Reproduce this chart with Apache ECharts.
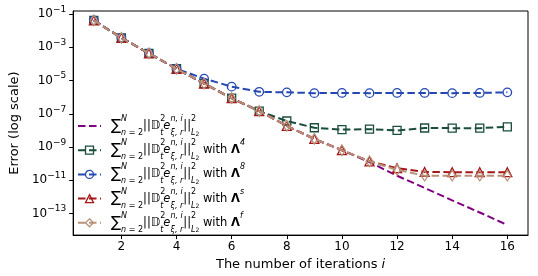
<!DOCTYPE html>
<html>
<head>
<meta charset="utf-8">
<script src="https://cdn.jsdelivr.net/npm/echarts@6/dist/echarts.min.js"></script>
<style>html,body{margin:0;padding:0;background:#fff}#c{width:538px;height:276px}</style>
</head>
<body>
<div id="c"></div>
<script>
const iterations = [1,2,3,4,5,6,7,8,9,10,11,12,13,14,15,16];
const errPlain   = [4.1e-2,3.7e-3,4.3e-4,5.1e-5,6.6e-6,8.7e-7,1.45e-7,1.9e-8,3.1e-9,6.5e-10,1.25e-10,1.9e-11,3.5e-12,6.3e-13,1.17e-13,2.1e-14];
const errLambda4 = [4.1e-2,3.7e-3,4.3e-4,5.1e-5,6.6e-6,8.7e-7,1.45e-7,3.7e-8,1.45e-8,1.12e-8,1.2e-8,1.0e-8,1.4e-8,1.38e-8,1.38e-8,1.65e-8];
const errLambda8 = [4.1e-2,3.7e-3,4.3e-4,5.1e-5,1.3e-5,4.3e-6,2.1e-6,1.95e-6,1.75e-6,1.8e-6,1.75e-6,1.8e-6,1.8e-6,1.75e-6,1.8e-6,1.95e-6];
const errLambdaS = [4.1e-2,3.7e-3,4.3e-4,5.1e-5,6.6e-6,8.7e-7,1.45e-7,1.9e-8,3.1e-9,6.5e-10,1.4e-10,5.4e-11,3.2e-11,3.1e-11,3.1e-11,3.1e-11];
const errLambdaF = [4.1e-2,3.7e-3,4.3e-4,5.1e-5,6.6e-6,8.7e-7,1.45e-7,1.9e-8,3.1e-9,6.5e-10,1.4e-10,4.3e-11,1.9e-11,1.9e-11,1.9e-11,1.9e-11];
const xTicks = [2,4,6,8,10,12,14,16];
const yTicks = [1e-1,1e-3,1e-5,1e-7,1e-9,1e-11,1e-13];
const seriesNames = ['plain','L4','L8','Ls','Lf'];
const seriesSuffix = ['', '4', '8', 's', 'f'];

const FONT = 'DejaVu Sans';
const colors = ['#800080','#1b4d3b','#2448b0','#a51616','#b8917a'];
const symbols = ['none','rect','circle','triangle','diamond'];
const symSizes = [0, 8, 8.5, 9, [7,10.5]];
const dataSets = [errPlain, errLambda4, errLambda8, errLambdaS, errLambdaF];

function legendText(name) {
  const idx = seriesNames.indexOf(name);
  const suf = seriesSuffix[idx];
  let s = '{sum|∑}{up0i|N}{dni|n}{dn| = 2}{t|||}{t|𝔻}{up0|2}{dni|t}{ti|e}{up0i|n, i}{dni|ξ, r}{t|||}{up0|2}{dni|L}{dn2|2}';
  if (suf) s += '{t| with }{bold|Λ}{upi|' + suf + '}';
  return s;
}

const series = dataSets.map((arr, k) => ({
  name: seriesNames[k],
  type: 'line',
  data: iterations.map((x, j) => [x, arr[j]]),
  symbol: symbols[k],
  symbolSize: symSizes[k],
  showSymbol: k !== 0,
  lineStyle: { color: colors[k], width: 2, type: [7.5, 3.5] },
  itemStyle: { color: 'rgba(255,255,255,0)', borderColor: colors[k], borderWidth: 1.3 },
  emphasis: { disabled: true },
  animation: false,
  z: 2 + k
}));

const legendData = seriesNames.map((n, k) => k === 0
  ? { name: n, icon: 'path://M0,0h7.5v2h-7.5z M11,0h7.5v2h-7.5z M22,0h1v2h-1z', itemStyle: { color: colors[0], borderWidth: 0 } }
  : { name: n, itemStyle: { borderWidth: 1.3 } });

const chart = echarts.init(document.getElementById('c'), null, { renderer: 'canvas' });
chart.setOption({
  animation: false,
  textStyle: { fontFamily: FONT },
  grid: { left: 67, right: 10, top: 11, bottom: 36, containLabel: false,
          show: true, borderColor: '#000', borderWidth: 1 },
  xAxis: {
    type: 'value', min: 0.25, max: 16.75,
    axisLine: { show: true, onZero: false, lineStyle: { color: '#000', width: 1 } },
    axisTick: { show: true, length: 4, customValues: xTicks, lineStyle: { color: '#000' } },
    axisLabel: { customValues: xTicks, color: '#000', fontSize: 12, margin: 6, fontFamily: FONT },
    splitLine: { show: false },
    name: 'The number of iterations {i|i}',
    nameLocation: 'middle', nameGap: 21,
    nameTextStyle: { color: '#000', fontSize: 13, fontFamily: FONT,
      rich: { i: { fontStyle: 'italic', fontSize: 13, fontFamily: FONT, color: '#000' } } }
  },
  yAxis: {
    type: 'log', logBase: 10, min: Math.pow(10, -14.29), max: Math.pow(10, -0.82),
    axisLine: { show: true, lineStyle: { color: '#000', width: 1 } },
    axisTick: { show: true, length: 4, customValues: yTicks, lineStyle: { color: '#000' } },
    axisLabel: {
      customValues: yTicks, color: '#000', margin: 7,
      formatter: function (v) { const e = Math.round(Math.log10(v)); return '{b|10}{s|−' + (-e) + '}'; },
      rich: {
        b: { fontSize: 12, lineHeight: 18, fontFamily: FONT, color: '#000' },
        s: { fontSize: 9, lineHeight: 10, verticalAlign: 'top', fontFamily: FONT, color: '#000' }
      }
    },
    splitLine: { show: false },
    name: 'Error (log scale)', nameLocation: 'middle', nameGap: 46,
    nameTextStyle: { color: '#000', fontSize: 13, fontFamily: FONT }
  },
  legend: {
    orient: 'vertical', left: 77, top: 115, padding: 0,
    itemWidth: 23, itemHeight: 10, itemGap: 2.2,
    selectedMode: false,
    data: legendData,
    formatter: legendText,
    textStyle: {
      color: '#000', fontFamily: FONT, padding: [0, 0, 0, 5],
      rich: {
        t: { fontSize: 11.5, lineHeight: 22, fontFamily: FONT, color: '#000' },
        ti: { fontSize: 11.5, lineHeight: 22, fontStyle: 'italic', fontFamily: FONT, color: '#000' },
        sum: { fontSize: 15, lineHeight: 22, fontFamily: FONT, color: '#000' },
        bold: { fontSize: 11.5, lineHeight: 22, fontWeight: 'bold', fontFamily: FONT, color: '#000' },
        up0: { fontSize: 8, lineHeight: 12, verticalAlign: 'top', width: 0, fontFamily: FONT, color: '#000' },
        up0i: { fontSize: 8, lineHeight: 12, verticalAlign: 'top', width: 0, fontStyle: 'italic', fontFamily: FONT, color: '#000' },
        upi: { fontSize: 8, lineHeight: 12, verticalAlign: 'top', fontStyle: 'italic', fontFamily: FONT, color: '#000' },
        dn: { fontSize: 8, lineHeight: 10, verticalAlign: 'bottom', fontFamily: FONT, color: '#000' },
        dni: { fontSize: 8, lineHeight: 10, verticalAlign: 'bottom', fontStyle: 'italic', fontFamily: FONT, color: '#000' },
        dn2: { fontSize: 6, lineHeight: 14, verticalAlign: 'bottom', fontFamily: FONT, color: '#000' }
      }
    }
  },
  series: series
});
</script>
</body>
</html>
